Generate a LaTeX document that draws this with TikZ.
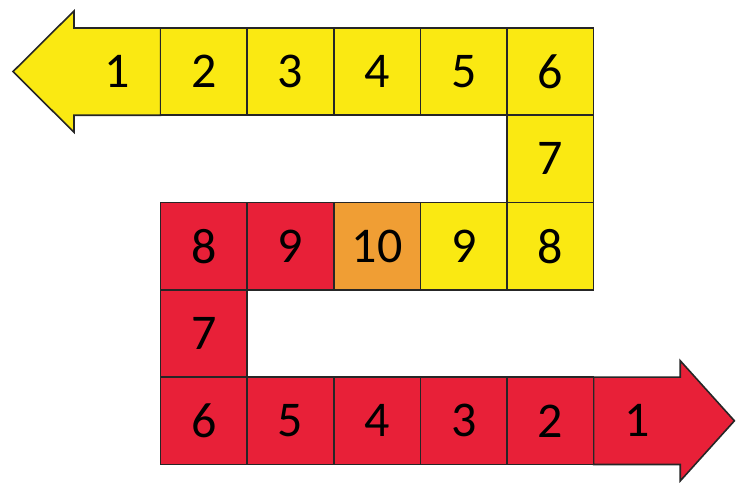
\documentclass[tikz,border=0pt]{standalone}
\usepackage{fontspec}
\setmainfont{Carlito}
\usetikzlibrary{positioning,backgrounds}

\definecolor{sunyellow}{RGB}{250,233,18}
\definecolor{boardred}{RGB}{232,32,56}
\definecolor{tileorange}{RGB}{240,158,52}

\begin{document}
\begin{tikzpicture}[
    x=1pt, y=1pt,
    node distance=0pt,
    font=\fontsize{50}{54}\selectfont,
    cell/.style={draw=black!85, line width=1.6pt, outer sep=0pt, inner sep=0pt, minimum width=86.6pt, minimum height=87.3pt},
    ycell/.style={cell, fill=sunyellow},
    rcell/.style={cell, fill=boardred},
    ocell/.style={cell, fill=tileorange},
    endcell/.style={cell, draw=none},
    head/.style={draw=black!85, line width=1.6pt, line join=miter},
]
\useasboundingbox (0,0) rectangle (736,-482);

% Yellow track (top, runs right then down)
\node[endcell] (y1) at (117.3,-71.6) {1};
\node[ycell, right=of y1] (y2) {2};
\node[ycell, right=of y2] (y3) {3};
\node[ycell, right=of y3] (y4) {4};
\node[ycell, right=of y4] (y5) {5};
\node[ycell, right=of y5] (y6) {6};
\node[ycell, below=of y6] (y7) {7};
\node[ycell, below=of y7] (y8) {8};
\node[ycell, left=of y8] (y9) {9};

% Middle tile
\node[ocell, left=of y9] (mid) {10};

% Red track (bottom, runs left then down)
\node[rcell, left=of mid] (r9) {9};
\node[rcell, left=of r9] (r8) {8};
\node[rcell, below=of r8] (r7) {7};
\node[rcell, below=of r7] (r6) {6};
\node[rcell, right=of r6] (r5) {5};
\node[rcell, right=of r5] (r4) {4};
\node[rcell, right=of r4] (r3) {3};
\node[rcell, right=of r3] (r2) {2};
\node[endcell, right=of r2] (r1) {1};

% Arrow heads
\begin{scope}[on background layer]
    \path[head, fill=sunyellow] (y1.north east) -- (y1.north west) -- ++(0,17)
        -- ++(-61,-60.65) -- ++(61,-60.65) -- (y1.south west) -- (y1.south east) -- cycle;
    \path[head, fill=boardred] (r1.south west) -- (r1.south east) -- ++(0,-16.5)
        -- ++(54.2,60.15) -- ++(-54.2,60.15) -- (r1.north east) -- (r1.north west) -- cycle;
\end{scope}
\end{tikzpicture}
\end{document}
